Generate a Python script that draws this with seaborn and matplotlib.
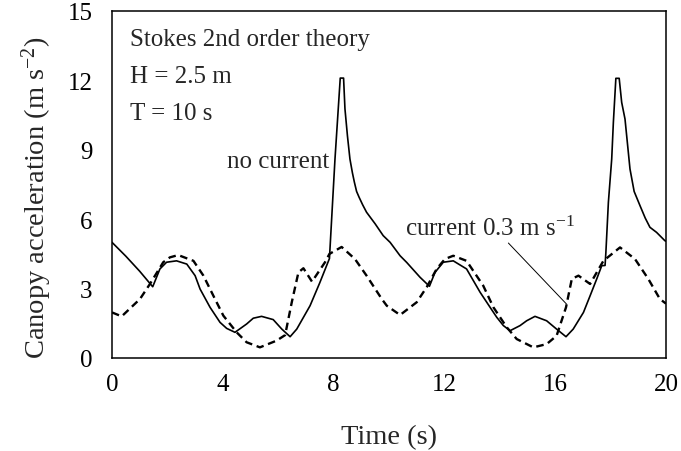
import matplotlib
matplotlib.use("Agg")
import matplotlib.pyplot as plt
import seaborn as sns
import pandas as pd

# ---- data ----
t_nc = [0.0, 0.5, 1.0, 1.47, 1.73, 1.97, 2.33, 2.7, 3.0, 3.18, 3.54, 3.9, 4.14, 4.44,
        4.86, 5.1, 5.4, 5.82, 6.13, 6.43, 6.67, 7.15, 7.5, 7.85, 8.05, 8.24, 8.36,
        8.41, 8.5, 8.59, 8.68, 8.75, 8.83, 8.92, 9.05, 9.19, 9.5, 9.79, 10.04, 10.4,
        10.64, 11.12, 11.46,
        11.66, 11.96, 12.32, 12.8, 13.29, 13.65, 13.89, 14.13, 14.37, 14.73, 14.97,
        15.27, 15.69, 16.05, 16.39, 16.65, 17.02, 17.26, 17.5, 17.68, 17.8, 17.83,
        17.92, 18.04, 18.1, 18.19, 18.31, 18.4, 18.52, 18.7, 18.85, 19.06, 19.25,
        19.42, 19.66, 19.96, 20.0]
a_nc = [5.0, 4.4, 3.75, 3.08, 3.85, 4.14, 4.2, 4.06, 3.56, 2.98, 2.19, 1.54, 1.28, 1.11,
        1.47, 1.72, 1.8, 1.66, 1.25, 0.92, 1.25, 2.26, 3.25, 4.3, 8.6, 12.1, 12.1,
        10.77, 9.6, 8.6, 8.0, 7.6, 7.2, 6.95, 6.62, 6.3, 5.8, 5.29, 5.0, 4.42,
        4.13, 3.49, 3.1,
        3.7, 4.14, 4.2, 3.85, 2.84, 2.19, 1.76, 1.4, 1.18, 1.4, 1.61,
        1.8, 1.61, 1.25, 0.92, 1.25, 1.97, 2.69, 3.42, 3.99, 4.0, 4.57,
        6.73, 8.6, 10.19, 12.09, 12.09, 11.05, 10.33, 8.17, 7.2, 6.59, 6.05,
        5.65, 5.43, 5.07, 5.05]

t_cur = [0.0, 0.35, 1.01, 1.37, 1.85, 2.09, 2.39, 2.94, 3.3, 3.66, 4.02, 4.5, 4.86,
         5.34, 5.94, 6.25, 6.49, 6.73, 6.91, 7.22, 7.69, 7.85, 8.29, 8.77, 9.19, 9.74,
         9.92, 10.4, 11.0, 11.36, 11.72, 12.02, 12.32, 12.8, 13.4, 13.77, 14.25,
         14.61, 15.21, 15.69, 16.05, 16.39, 16.6, 16.84, 17.26, 17.74, 18.34, 18.88,
         19.36, 19.78, 20.0]
a_cur = [1.97, 1.8, 2.55, 3.2, 4.14, 4.35, 4.45, 4.2, 3.56, 2.69, 1.83, 1.11, 0.68,
         0.46, 0.75, 0.99, 2.41, 3.7, 3.88, 3.3, 4.14, 4.5, 4.8, 4.28, 3.56, 2.55,
         2.26, 1.86, 2.41, 3.06, 3.85, 4.28, 4.42, 4.2, 3.13, 2.19, 1.33,
         0.82, 0.46, 0.6, 0.96, 2.19, 3.42, 3.56, 3.2, 4.2, 4.78, 4.28,
         3.42, 2.55, 2.35]

x_ticks = [0, 4, 8, 12, 16, 20]
y_ticks = [0, 3, 6, 9, 12, 15]

# ---- style ----
sns.set_style("white")
plt.rcParams["font.family"] = ["Liberation Serif", "DejaVu Serif"]
plt.rcParams["mathtext.fontset"] = "custom"
plt.rcParams["mathtext.rm"] = "Liberation Serif"
plt.rcParams["mathtext.it"] = "Liberation Serif:italic"
plt.rcParams["mathtext.default"] = "rm"

fig = plt.figure(figsize=(6.81, 4.52), dpi=100)
ax = fig.add_axes([112 / 681, 1 - 359 / 452, 554 / 681, 347 / 452])

df_nc = pd.DataFrame({"t": t_nc, "a": a_nc})
df_cur = pd.DataFrame({"t": t_cur, "a": a_cur})

sns.lineplot(data=df_nc, x="t", y="a", ax=ax, color="black", linewidth=1.2,
             sort=False, estimator=None)
sns.lineplot(data=df_cur, x="t", y="a", ax=ax, color="black", linewidth=1.7,
             sort=False, estimator=None, linestyle=(0, (3.2, 2.0)))

ax.set_xlim(0, 20)
ax.set_ylim(0, 15)
ax.set_xticks(x_ticks)
ax.set_yticks(y_ticks)
ax.set_xticklabels([str(v) for v in x_ticks])
ax.set_yticklabels([str(v) for v in y_ticks])

for s in ax.spines.values():
    s.set_visible(True)
    s.set_linewidth(1.1)
    s.set_color("black")

ax.tick_params(axis="both", which="both", direction="in", length=6.5, width=1.0,
               labelsize=18, colors="black", top=False, right=False)
ax.tick_params(axis="x", pad=11)
ax.tick_params(axis="y", pad=14)

ax.set_xlabel("Time (s)", fontsize=20.5, labelpad=21)
ax.set_ylabel(r"Canopy acceleration (m s$^{-2}$)", fontsize=20.5)
ax.yaxis.set_label_coords(-0.104, 0.465)

# annotations
ax.text(0.65, 13.55, "Stokes 2nd order theory", fontsize=18, ha="left", va="baseline")
ax.text(0.65, 11.92, "H = 2.5 m", fontsize=18, ha="left", va="baseline")
ax.text(0.65, 10.33, "T = 10 s", fontsize=18, ha="left", va="baseline")
ax.text(7.85, 8.24, "no current", fontsize=18, ha="right", va="baseline")
ax.text(10.58, 5.32, r"current 0.3 m s$^{-1}$", fontsize=18, ha="left", va="baseline")
ax.plot([14.31, 16.41], [4.97, 2.33], color="black", linewidth=0.7)

fig.savefig("out.png", dpi=100)
